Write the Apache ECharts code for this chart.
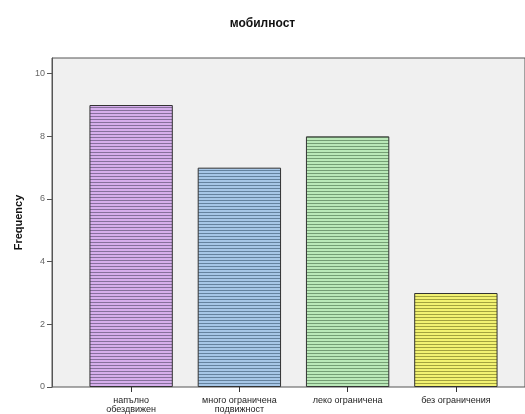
<!DOCTYPE html>
<html>
<head>
<meta charset="utf-8">
<script src="https://cdn.jsdelivr.net/npm/echarts@6/dist/echarts.min.js"></script>
<style>
  html, body { margin: 0; padding: 0; background: #fff; }
  #chart { width: 525px; height: 414px; }
</style>
</head>
<body>
<div id="chart"></div>
<script>
  var categories = ['напълно\nобездвижен', 'много ограничена\nподвижност', 'леко ограничена', 'без ограничения']
  var frequency = [9, 7, 8, 3]
  var yTicks = [0, 2, 4, 6, 8, 10]

  // horizontal stripes like the SPSS fill
  var fills = [
    ['#d6aeec', '#86709c'],
    ['#a6c6e6', '#64829e'],
    ['#bae8b8', '#749e74'],
    ['#f2f272', '#a2a23e']
  ]
  function stripe (light, dark) {
    var c = document.createElement('canvas')
    c.width = 4
    c.height = 3
    var ctx = c.getContext('2d')
    ctx.fillStyle = light
    ctx.fillRect(0, 0, 4, 3)
    ctx.fillStyle = dark
    ctx.fillRect(0, 2, 4, 1)
    return { image: c, repeat: 'repeat' }
  }

  var chart = echarts.init(document.getElementById('chart'))
  var option = {
    animation: false,
    title: {
      text: 'мобилност',
      left: 'center',
      top: 13,
      textStyle: { fontFamily: 'Liberation Sans', fontSize: 12, fontWeight: 'bold', color: '#111' }
    },
    grid: [
      // background frame
      { left: 52, top: 58, right: -10, bottom: 27, show: true, backgroundColor: '#f0f0f0', borderColor: '#555', borderWidth: 1 },
      // data area
      { left: 77, top: 58, right: 15, bottom: 27 }
    ],
    xAxis: [
      { gridIndex: 0, type: 'value', show: false },
      {
        gridIndex: 1,
        type: 'category',
        data: categories,
        axisLine: { show: false },
        axisTick: { show: true, alignWithLabel: true, length: 5, lineStyle: { color: '#333' } },
        axisLabel: { interval: 0, color: '#222', fontFamily: 'Liberation Sans', fontSize: 9, lineHeight: 9, margin: 9 }
      }
    ],
    yAxis: [
      { gridIndex: 0, type: 'value', show: false },
      {
        gridIndex: 1,
        type: 'value',
        min: 0,
        max: 10.5,
        interval: 2,
        offset: 25,
        name: 'Frequency',
        nameLocation: 'middle',
        nameGap: 24,
        nameTextStyle: { fontFamily: 'Liberation Sans', fontSize: 11, fontWeight: 'bold', color: '#111' },
        axisLine: { show: true, lineStyle: { color: '#555' } },
        axisTick: { show: true, length: 5, customValues: yTicks, lineStyle: { color: '#555' } },
        splitLine: { show: false },
        axisLabel: {
          color: '#666',
          fontFamily: 'Liberation Sans',
          fontSize: 9,
          margin: 7,
          customValues: yTicks
        }
      }
    ],
    series: [{
      type: 'bar',
      xAxisIndex: 1,
      yAxisIndex: 1,
      barCategoryGap: '23%',
      data: frequency.map(function (v, i) {
        return {
          value: v,
          itemStyle: { color: stripe(fills[i][0], fills[i][1]), borderColor: '#333', borderWidth: 1 }
        }
      })
    }]
  }
  chart.setOption(option)
</script>
</body>
</html>
